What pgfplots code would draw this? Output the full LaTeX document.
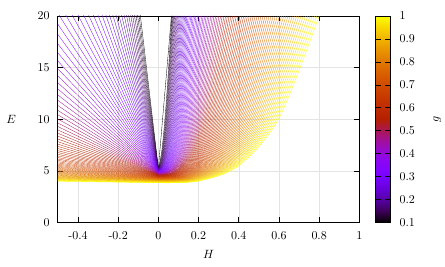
\documentclass[border=0pt]{standalone}
\usepackage{pgfplots}
\pgfplotsset{compat=1.18}
\newcommand{\cv}[7]{%
\addplot[cline, color of colormap={#1}] coordinates {(-0.5,#2) (0,#3)};
\addplot[cline, smooth, color of colormap={#1}] coordinates {(0,#3) #4 #5 #6 (#7,20)};}
\begin{document}
\begin{tikzpicture}
\begin{axis}[name=main, scale only axis, width=251.7pt, height=172.5pt,
  xmin=-0.5, xmax=1, ymin=0, ymax=20,
  xtick={-0.4,-0.2,0,0.2,0.4,0.6,0.8,1},
  xticklabels={-0.4,-0.2,0,0.2,0.4,0.6,0.8,1},
  ytick={0,5,10,15,20},
  grid=major, major grid style={gray!22, line width=0.4pt},
  axis line style={line width=0.6pt},
  tick style={black, line width=0.5pt},
  xticklabel style={yshift=-4pt},
  yticklabel style={xshift=-3.3pt},
  xlabel={$H$}, ylabel={$E$},
  every axis x label/.style={at={(axis description cs:0.5,0)}, anchor=center, yshift=-26.7pt},
  every axis y label/.style={at={(axis description cs:0,0.5)}, anchor=center, xshift=-39pt},
  cline/.style={line width=0.27pt, no markers},
  colormap={gp}{rgb=(0,0,0) rgb=(0.224,0,0.309) rgb=(0.316,0.001,0.588) rgb=(0.387,0.003,0.809) rgb=(0.447,0.008,0.951) rgb=(0.5,0.016,1) rgb=(0.548,0.027,0.951) rgb=(0.592,0.043,0.809) rgb=(0.632,0.064,0.588) rgb=(0.671,0.091,0.309) rgb=(0.707,0.125,0) rgb=(0.742,0.166,0) rgb=(0.775,0.216,0) rgb=(0.806,0.275,0) rgb=(0.837,0.343,0) rgb=(0.866,0.422,0) rgb=(0.894,0.512,0) rgb=(0.922,0.614,0) rgb=(0.949,0.729,0) rgb=(0.975,0.857,0) rgb=(1,1,0)},
  colorbar, point meta min=0.1, point meta max=1,
  colorbar style={width=12.5pt, at={(parent axis.north east)}, anchor=north west, xshift=5pt,
    ytick={0.1,0.2,0.3,0.4,0.5,0.6,0.7,0.8,0.9,1},
    yticklabels={0.1,0.2,0.3,0.4,0.5,0.6,0.7,0.8,0.9,1},
    ytick pos=both, yticklabel pos=right, tick align=inside,
    tick style={black, line width=0.5pt}, axis line style={line width=0.5pt},
    yticklabel style={xshift=4pt},
    ylabel={$g$},
    every axis y label/.style={at={(axis description cs:1,0.5)}, anchor=center, xshift=39pt, rotate=90}},
]
\cv{0}{87.75}{5.25}{(0.0163,8.94)}{(0.0325,12.63)}{(0.0488,16.31)}{0.065}
\cv{11.1}{82.13}{5.23}{(0.0166,6.85)}{(0.0332,10.12)}{(0.0498,14.57)}{0.0664}
\cv{22.2}{76.92}{5.22}{(0.0172,6.56)}{(0.0343,9.66)}{(0.0515,14.20)}{0.0686}
\cv{33.3}{72.05}{5.20}{(0.0178,6.38)}{(0.0357,9.37)}{(0.0535,13.95)}{0.0713}
\cv{44.4}{67.54}{5.19}{(0.0186,6.25)}{(0.0372,9.15)}{(0.0558,13.75)}{0.0744}
\cv{55.6}{63.32}{5.17}{(0.0195,6.14)}{(0.0389,8.97)}{(0.0584,13.59)}{0.0778}
\cv{66.7}{59.36}{5.16}{(0.0204,6.06)}{(0.0408,8.81)}{(0.0612,13.46)}{0.0816}
\cv{77.8}{55.69}{5.14}{(0.0214,5.99)}{(0.0428,8.68)}{(0.0642,13.34)}{0.0856}
\cv{88.9}{52.25}{5.13}{(0.0225,5.92)}{(0.0449,8.57)}{(0.0674,13.23)}{0.0898}
\cv{100}{49.05}{5.11}{(0.0236,5.86)}{(0.0472,8.46)}{(0.0707,13.13)}{0.0943}
\cv{111.1}{46.06}{5.09}{(0.0247,5.81)}{(0.0495,8.36)}{(0.0742,13.03)}{0.0989}
\cv{122.2}{43.28}{5.08}{(0.0259,5.76)}{(0.0519,8.27)}{(0.0778,12.95)}{0.1037}
\cv{133.3}{40.68}{5.06}{(0.0272,5.72)}{(0.0544,8.19)}{(0.0816,12.87)}{0.1088}
\cv{144.4}{38.26}{5.05}{(0.0285,5.68)}{(0.0570,8.11)}{(0.0855,12.79)}{0.1140}
\cv{155.6}{36.00}{5.03}{(0.0298,5.64)}{(0.0597,8.04)}{(0.0895,12.72)}{0.1193}
\cv{166.7}{33.89}{5.02}{(0.0312,5.60)}{(0.0624,7.97)}{(0.0936,12.65)}{0.1248}
\cv{177.8}{31.92}{5.00}{(0.0326,5.56)}{(0.0653,7.90)}{(0.0979,12.59)}{0.1305}
\cv{188.9}{30.09}{4.99}{(0.0341,5.53)}{(0.0682,7.84)}{(0.1022,12.53)}{0.1363}
\cv{200}{28.37}{4.97}{(0.0356,5.50)}{(0.0711,7.78)}{(0.1067,12.46)}{0.1422}
\cv{211.1}{26.77}{4.95}{(0.0371,5.46)}{(0.0742,7.72)}{(0.1112,12.41)}{0.1483}
\cv{222.2}{25.29}{4.94}{(0.0386,5.43)}{(0.0773,7.67)}{(0.1159,12.35)}{0.1545}
\cv{233.3}{23.89}{4.92}{(0.0402,5.40)}{(0.0804,7.61)}{(0.1206,12.30)}{0.1608}
\cv{244.4}{22.60}{4.91}{(0.0418,5.37)}{(0.0837,7.56)}{(0.1255,12.25)}{0.1673}
\cv{255.6}{21.38}{4.89}{(0.0435,5.35)}{(0.0869,7.51)}{(0.1304,12.20)}{0.1738}
\cv{266.7}{20.26}{4.88}{(0.0451,5.32)}{(0.0903,7.47)}{(0.1354,12.15)}{0.1805}
\cv{277.8}{19.20}{4.86}{(0.0468,5.29)}{(0.0937,7.42)}{(0.1405,12.10)}{0.1873}
\cv{288.9}{18.21}{4.85}{(0.0486,5.27)}{(0.0971,7.37)}{(0.1457,12.05)}{0.1942}
\cv{300}{17.29}{4.83}{(0.0503,5.24)}{(0.1006,7.33)}{(0.1509,12.00)}{0.2012}
\cv{311.1}{16.43}{4.81}{(0.0521,5.22)}{(0.1042,7.29)}{(0.1562,11.96)}{0.2083}
\cv{322.2}{15.64}{4.80}{(0.0539,5.19)}{(0.1078,7.24)}{(0.1617,11.92)}{0.2156}
\cv{333.3}{14.88}{4.78}{(0.0557,5.17)}{(0.1115,7.20)}{(0.1672,11.87)}{0.2229}
\cv{344.4}{14.19}{4.77}{(0.0576,5.14)}{(0.1152,7.16)}{(0.1727,11.83)}{0.2303}
\cv{355.6}{13.53}{4.75}{(0.0595,5.12)}{(0.1189,7.12)}{(0.1784,11.79)}{0.2378}
\cv{366.7}{12.93}{4.74}{(0.0614,5.10)}{(0.1227,7.08)}{(0.1841,11.75)}{0.2454}
\cv{377.8}{12.36}{4.72}{(0.0633,5.07)}{(0.1266,7.04)}{(0.1898,11.71)}{0.2531}
\cv{388.9}{11.83}{4.71}{(0.0652,5.05)}{(0.1305,7.01)}{(0.1957,11.68)}{0.2609}
\cv{400}{11.33}{4.69}{(0.0672,5.03)}{(0.1344,6.97)}{(0.2016,11.64)}{0.2688}
\cv{411.1}{10.86}{4.67}{(0.0692,5.01)}{(0.1384,6.93)}{(0.2075,11.60)}{0.2767}
\cv{422.2}{10.43}{4.66}{(0.0712,4.99)}{(0.1424,6.90)}{(0.2136,11.56)}{0.2848}
\cv{433.3}{10.02}{4.64}{(0.0733,4.96)}{(0.1465,6.86)}{(0.2198,11.53)}{0.2930}
\cv{444.4}{9.64}{4.63}{(0.0753,4.94)}{(0.1506,6.83)}{(0.2259,11.49)}{0.3012}
\cv{455.6}{9.29}{4.61}{(0.0774,4.92)}{(0.1548,6.80)}{(0.2321,11.46)}{0.3095}
\cv{466.7}{8.96}{4.60}{(0.0795,4.90)}{(0.1590,6.76)}{(0.2384,11.42)}{0.3179}
\cv{477.8}{8.65}{4.58}{(0.0816,4.88)}{(0.1632,6.73)}{(0.2448,11.39)}{0.3264}
\cv{488.9}{8.36}{4.57}{(0.0837,4.86)}{(0.1675,6.70)}{(0.2512,11.35)}{0.3349}
\cv{500}{8.09}{4.55}{(0.0859,4.84)}{(0.1718,6.67)}{(0.2577,11.32)}{0.3436}
\cv{511.1}{7.83}{4.53}{(0.0881,4.82)}{(0.1761,6.63)}{(0.2642,11.29)}{0.3522}
\cv{522.2}{7.59}{4.52}{(0.0903,4.80)}{(0.1805,6.60)}{(0.2708,11.25)}{0.3610}
\cv{533.3}{7.37}{4.50}{(0.0925,4.78)}{(0.1850,6.57)}{(0.2774,11.22)}{0.3699}
\cv{544.4}{7.16}{4.49}{(0.0947,4.76)}{(0.1894,6.54)}{(0.2840,11.19)}{0.3787}
\cv{555.6}{6.96}{4.47}{(0.0970,4.74)}{(0.1939,6.51)}{(0.2909,11.16)}{0.3878}
\cv{566.7}{6.78}{4.46}{(0.0992,4.72)}{(0.1985,6.48)}{(0.2977,11.13)}{0.3969}
\cv{577.8}{6.61}{4.44}{(0.1015,4.70)}{(0.2030,6.45)}{(0.3045,11.10)}{0.4060}
\cv{588.9}{6.45}{4.43}{(0.1038,4.68)}{(0.2076,6.42)}{(0.3114,11.07)}{0.4152}
\cv{600}{6.29}{4.41}{(0.1061,4.66)}{(0.2123,6.40)}{(0.3184,11.04)}{0.4245}
\cv{611.1}{6.15}{4.39}{(0.1085,4.64)}{(0.2169,6.37)}{(0.3254,11.01)}{0.4338}
\cv{622.2}{6.02}{4.38}{(0.1108,4.62)}{(0.2217,6.34)}{(0.3325,10.98)}{0.4433}
\cv{633.3}{5.89}{4.36}{(0.1132,4.61)}{(0.2264,6.31)}{(0.3396,10.95)}{0.4528}
\cv{644.4}{5.77}{4.35}{(0.1156,4.59)}{(0.2312,6.28)}{(0.3467,10.92)}{0.4623}
\cv{655.6}{5.66}{4.33}{(0.1180,4.57)}{(0.2360,6.26)}{(0.3539,10.89)}{0.4719}
\cv{666.7}{5.55}{4.32}{(0.1204,4.55)}{(0.2408,6.23)}{(0.3612,10.87)}{0.4816}
\cv{677.8}{5.45}{4.30}{(0.1229,4.53)}{(0.2457,6.20)}{(0.3686,10.84)}{0.4914}
\cv{688.9}{5.36}{4.29}{(0.1253,4.51)}{(0.2506,6.18)}{(0.3759,10.81)}{0.5012}
\cv{700}{5.27}{4.27}{(0.1278,4.49)}{(0.2556,6.15)}{(0.3833,10.78)}{0.5111}
\cv{711.1}{5.19}{4.25}{(0.1303,4.48)}{(0.2605,6.12)}{(0.3908,10.75)}{0.5210}
\cv{722.2}{5.11}{4.24}{(0.1328,4.46)}{(0.2655,6.10)}{(0.3983,10.73)}{0.5310}
\cv{733.3}{5.04}{4.22}{(0.1353,4.44)}{(0.2706,6.07)}{(0.4058,10.70)}{0.5411}
\cv{744.4}{4.97}{4.21}{(0.1378,4.42)}{(0.2757,6.04)}{(0.4135,10.67)}{0.5513}
\cv{755.6}{4.90}{4.19}{(0.1404,4.40)}{(0.2807,6.02)}{(0.4211,10.65)}{0.5614}
\cv{766.7}{4.84}{4.18}{(0.1429,4.39)}{(0.2859,5.99)}{(0.4288,10.62)}{0.5717}
\cv{777.8}{4.78}{4.16}{(0.1455,4.37)}{(0.2910,5.97)}{(0.4365,10.59)}{0.5820}
\cv{788.9}{4.72}{4.15}{(0.1481,4.35)}{(0.2962,5.94)}{(0.4442,10.57)}{0.5923}
\cv{800}{4.66}{4.13}{(0.1507,4.33)}{(0.3015,5.92)}{(0.4522,10.54)}{0.6029}
\cv{811.1}{4.61}{4.11}{(0.1533,4.31)}{(0.3066,5.89)}{(0.4599,10.51)}{0.6132}
\cv{822.2}{4.56}{4.10}{(0.1560,4.30)}{(0.3119,5.87)}{(0.4679,10.49)}{0.6238}
\cv{833.3}{4.52}{4.08}{(0.1586,4.28)}{(0.3173,5.84)}{(0.4759,10.46)}{0.6345}
\cv{844.4}{4.47}{4.07}{(0.1613,4.26)}{(0.3226,5.82)}{(0.4838,10.44)}{0.6451}
\cv{855.6}{4.43}{4.05}{(0.1640,4.24)}{(0.3279,5.79)}{(0.4919,10.41)}{0.6558}
\cv{866.7}{4.39}{4.04}{(0.1667,4.23)}{(0.3333,5.77)}{(0.5000,10.39)}{0.6666}
\cv{877.8}{4.35}{4.02}{(0.1693,4.21)}{(0.3387,5.75)}{(0.5080,10.36)}{0.6773}
\cv{888.9}{4.31}{4.01}{(0.1721,4.19)}{(0.3442,5.72)}{(0.5162,10.34)}{0.6883}
\cv{900}{4.28}{3.99}{(0.1748,4.17)}{(0.3496,5.70)}{(0.5243,10.32)}{0.6991}
\cv{911.1}{4.24}{3.97}{(0.1776,4.16)}{(0.3551,5.67)}{(0.5327,10.29)}{0.7102}
\cv{922.2}{4.21}{3.96}{(0.1803,4.14)}{(0.3606,5.65)}{(0.5409,10.27)}{0.7212}
\cv{933.3}{4.17}{3.94}{(0.1831,4.12)}{(0.3662,5.63)}{(0.5492,10.24)}{0.7323}
\cv{944.4}{4.14}{3.93}{(0.1859,4.10)}{(0.3717,5.60)}{(0.5576,10.22)}{0.7434}
\cv{955.6}{4.11}{3.91}{(0.1887,4.09)}{(0.3774,5.58)}{(0.5660,10.19)}{0.7547}
\cv{966.7}{4.08}{3.90}{(0.1915,4.07)}{(0.3830,5.56)}{(0.5744,10.17)}{0.7659}
\cv{977.8}{4.06}{3.88}{(0.1943,4.05)}{(0.3886,5.54)}{(0.5829,10.15)}{0.7772}
\cv{988.9}{4.03}{3.87}{(0.1971,4.03)}{(0.3943,5.51)}{(0.5914,10.12)}{0.7885}
\cv{1000}{4.00}{3.85}{(0.2000,4.02)}{(0.4000,5.49)}{(0.6000,10.10)}{0.8000}
\end{axis}
\path ([shift={(-48.3pt,-36.7pt)}]main.south west) rectangle ([shift={(70.8pt,13.3pt)}]main.north east);
\end{tikzpicture}
\end{document}
